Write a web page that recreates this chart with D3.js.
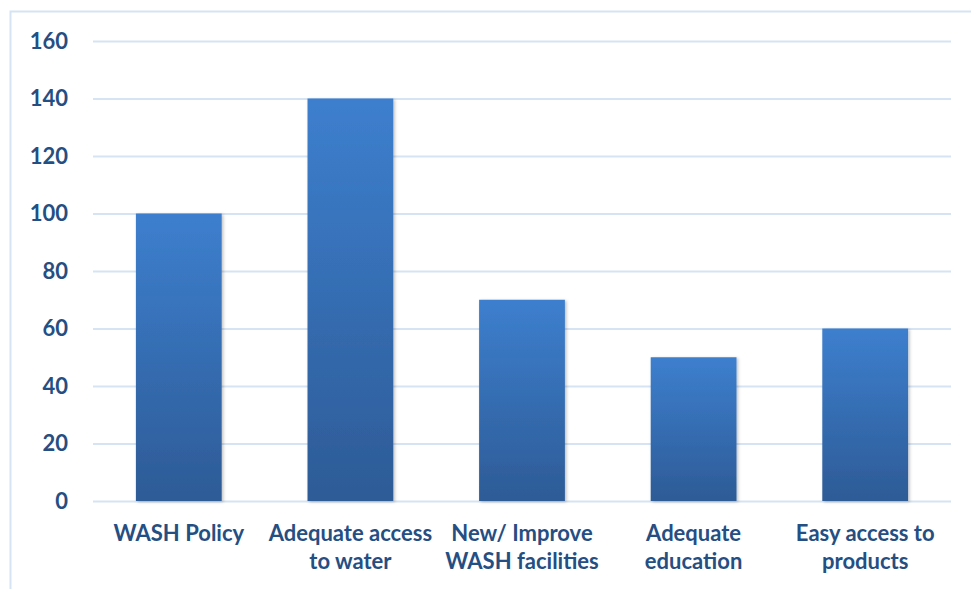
<!DOCTYPE html>
<html>
<head>
<meta charset="utf-8">
<script src="https://cdn.jsdelivr.net/npm/d3@7/dist/d3.min.js"></script>
<style>
  html, body { margin: 0; padding: 0; background: #fff; }
  svg { display: block; }
  text { font-family: Lato, "Open Sans", sans-serif; font-weight: bold; fill: #254E82; }
</style>
</head>
<body>
<svg id="chart" width="971" height="589"></svg>
<script>
// Categories and their counts
const categories = [
  ["WASH Policy"],
  ["Adequate access", "to water"],
  ["New/ Improve", "WASH facilities"],
  ["Adequate", "education"],
  ["Easy access to", "products"]
];
const values = [100, 140, 70, 50, 60];
const yTicks = [0, 20, 40, 60, 80, 100, 120, 140, 160];

const svg = d3.select("#chart");
const margin = { left: 93, right: 20, top: 41, bottom: 88 };

// outer frame
svg.append("rect")
  .attr("x", 10.5).attr("y", 11.5)
  .attr("width", 975).attr("height", 600)
  .attr("fill", "none")
  .attr("stroke", "#D5E3F4")
  .attr("stroke-width", 2);

const x = d3.scaleBand()
  .domain(d3.range(values.length))
  .range([margin.left, 951])
  .paddingInner(0.5)
  .paddingOuter(0.25);

const y = d3.scaleLinear()
  .domain([0, 160])
  .range([501, margin.top]);

const defs = svg.append("defs");
const grad = defs.append("linearGradient")
  .attr("id", "barGrad")
  .attr("x1", 0).attr("y1", 0).attr("x2", 0).attr("y2", 1);
grad.append("stop").attr("offset", "0%").attr("stop-color", "#3D7FCE");
grad.append("stop").attr("offset", "100%").attr("stop-color", "#2D5B96");

const shadow = defs.append("filter").attr("id", "shadow")
  .attr("x", "-10%").attr("y", "-10%").attr("width", "130%").attr("height", "130%");
shadow.append("feDropShadow")
  .attr("dx", 1.5).attr("dy", 1).attr("stdDeviation", 1.5)
  .attr("flood-color", "#000").attr("flood-opacity", 0.25);

// gridlines + y axis labels
const yAxis = d3.axisLeft(y)
  .tickValues(yTicks)
  .tickSize(-(951 - margin.left))
  .tickPadding(25);

const gy = svg.append("g")
  .attr("transform", `translate(${margin.left},0)`)
  .call(yAxis);
gy.select(".domain").remove();
gy.selectAll(".tick line")
  .attr("stroke", "#D5E3F4")
  .attr("stroke-width", 2);
gy.selectAll(".tick text")
  .attr("font-size", 22)
  .attr("fill", "#254E82")
  .attr("font-family", "Lato, 'Open Sans', sans-serif")
  .attr("font-weight", "bold");

// bars
svg.append("g")
  .selectAll("rect")
  .data(values)
  .join("rect")
  .attr("x", (d, i) => x(i))
  .attr("y", d => y(d))
  .attr("width", x.bandwidth())
  .attr("height", d => y(0) - y(d))
  .attr("fill", "url(#barGrad)")
  .attr("filter", "url(#shadow)");

// category labels
const xAxis = d3.axisBottom(x).tickSize(0).tickFormat("");
const gx = svg.append("g")
  .attr("transform", `translate(0,${y(0)})`)
  .call(xAxis);
gx.select(".domain").remove();

const labels = svg.append("g")
  .selectAll("text")
  .data(categories)
  .join("text")
  .attr("x", (d, i) => x(i) + x.bandwidth() / 2)
  .attr("y", 541)
  .attr("text-anchor", "middle")
  .attr("font-size", 22);
labels.selectAll("tspan")
  .data(d => d)
  .join("tspan")
  .attr("x", function () { return d3.select(this.parentNode).attr("x"); })
  .attr("dy", (d, i) => i === 0 ? 0 : 28)
  .text(d => d);
</script>
</body>
</html>
